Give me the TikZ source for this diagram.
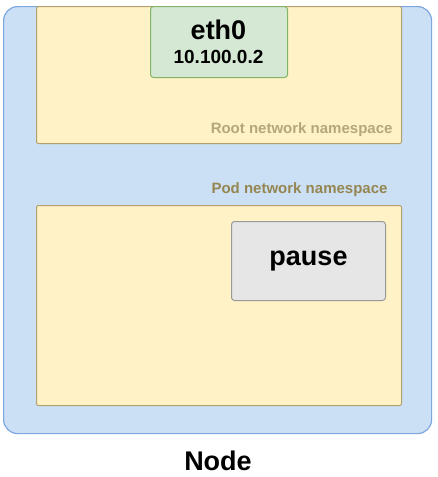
\documentclass[tikz,border=0pt]{standalone}
\usepackage{fontspec}
\setmainfont{Liberation Sans}
\begin{document}
\begin{tikzpicture}[x=1pt,y=-1pt,
  nodebox/.style={draw=nodeborder,fill=nodefill,line width=1.2pt,rounded corners=14pt},
  nsbox/.style={draw=nsborder,fill=nsfill,line width=1pt,rounded corners=2pt,anchor=north west,inner sep=0pt},
  ethbox/.style={draw=ethborder,fill=ethfill,line width=1pt,rounded corners=3pt},
  pausebox/.style={draw=pauseborder,fill=pausefill,line width=1pt,rounded corners=3pt},
  nslabel/.style={font=\fontsize{15}{17}\selectfont\bfseries,anchor=east}]
\definecolor{nodefill}{HTML}{CCE0F5}
\definecolor{nodeborder}{HTML}{7EA6E0}
\definecolor{nsfill}{HTML}{FFF2C7}
\definecolor{nsborder}{HTML}{B3A06E}
\definecolor{ethfill}{HTML}{D5E8D4}
\definecolor{ethborder}{HTML}{82B366}
\definecolor{pausefill}{HTML}{E6E6E6}
\definecolor{pauseborder}{HTML}{999999}
\definecolor{rootlbl}{HTML}{B5A77B}
\definecolor{podlbl}{HTML}{958651}
\useasboundingbox (0,0) rectangle (438,477);
\node[nodebox,anchor=north west,minimum width=428pt,minimum height=427pt,inner sep=0pt] (node) at (3,6) {};
\node[nsbox,minimum width=365pt,minimum height=137pt] (root) at (36,6) {};
\node[nsbox,minimum width=365pt,minimum height=200pt] (pod) at (36,205) {};
\node[ethbox,anchor=north west,minimum width=137pt,minimum height=71pt,inner sep=0pt] (eth) at (150,6) {};
\node[font=\fontsize{27}{29}\selectfont\bfseries] (ethname) at (218.5,30) {eth0};
\node[font=\fontsize{19}{21}\selectfont\bfseries] (ethip) at (218.5,57) {10.100.0.2};
\node[nslabel,text=rootlbl] (rootlabel) at (396,130) {Root network namespace};
\node[nslabel,text=podlbl] (podlabel) at (391,190) {Pod network namespace};
\node[pausebox,anchor=north west,minimum width=154pt,minimum height=79pt,inner sep=0pt,font=\fontsize{27}{29}\selectfont\bfseries] (pause) at (231,221) {pause};
\node[font=\fontsize{27}{29}\selectfont\bfseries] (nodelabel) at (218,461) {Node};
\end{tikzpicture}
\end{document}
